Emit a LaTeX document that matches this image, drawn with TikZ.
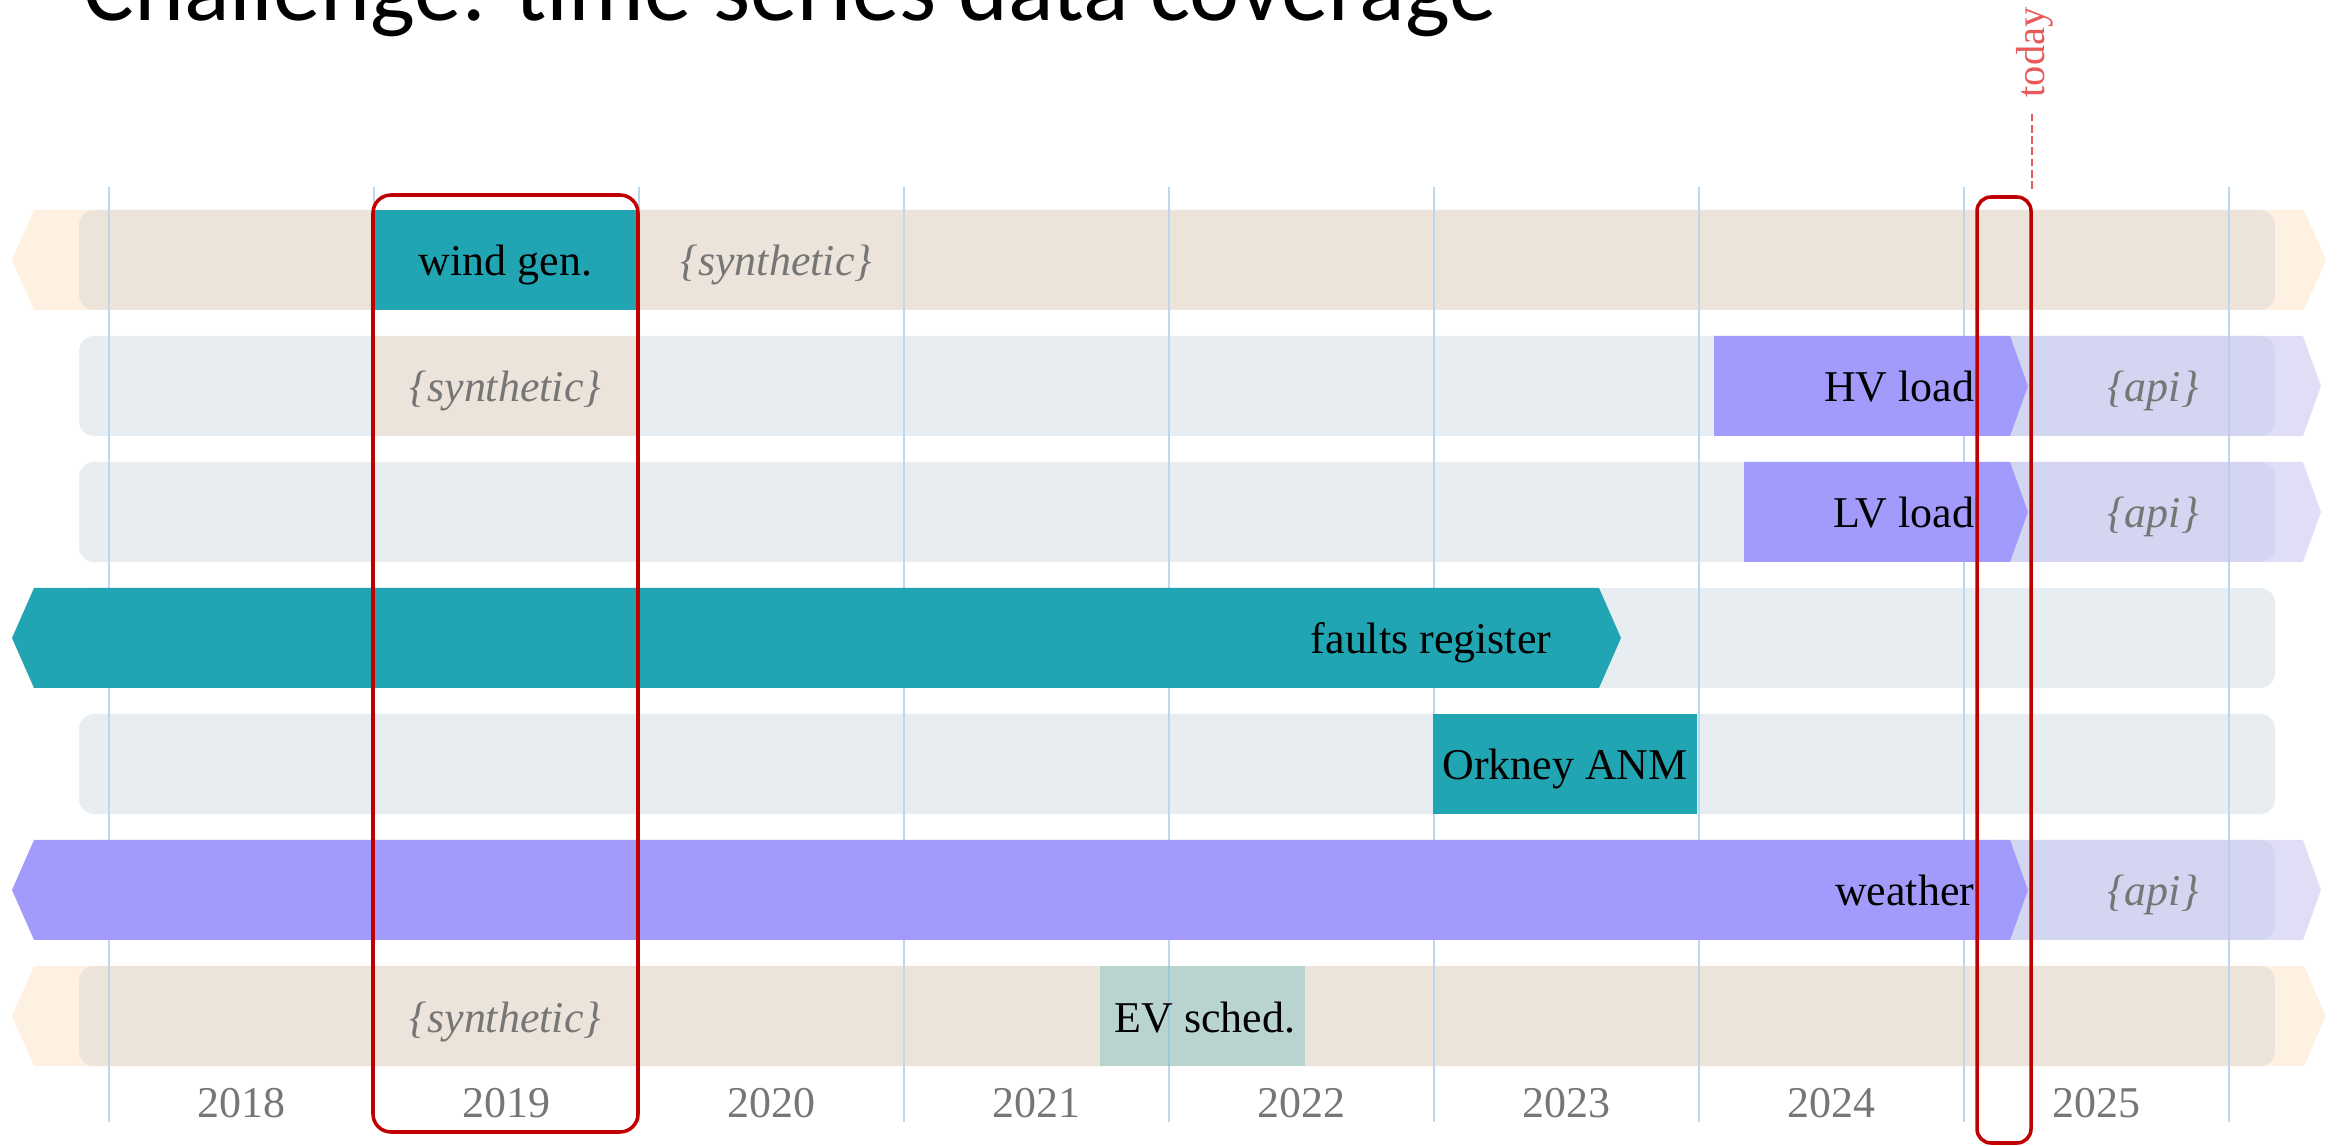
\documentclass[tikz,border=0pt]{standalone}
\usepackage{fontspec}
\setmainfont{Liberation Serif}
\newfontfamily\headfont{Carlito}
\definecolor{datateal}{rgb}{0.133, 0.647, 0.702}
\definecolor{datapurple}{rgb}{0.635, 0.608, 0.988}
\definecolor{apililac}{rgb}{0.761, 0.745, 0.941}
\definecolor{synthbeige}{rgb}{0.925, 0.894, 0.855}
\definecolor{synthorange}{rgb}{1, 0.945, 0.882}
\definecolor{rowgrey}{rgb}{0.91, 0.929, 0.945}
\definecolor{yearblue}{rgb}{0.741, 0.843, 0.933}
\definecolor{boxred}{rgb}{0.753, 0, 0}
\definecolor{todayred}{rgb}{0.91, 0.35, 0.35}
\definecolor{textgrey}{rgb}{0.463, 0.463, 0.463}
\tikzstyle{barlabel} = [inner sep=0pt, anchor=base, font=\fontsize{12.5}{15}\selectfont]
\tikzstyle{srclabel} = [barlabel, text=textgrey, font=\fontsize{12.5}{15}\selectfont\itshape]
\tikzstyle{yearlabel} = [barlabel, text=textgrey]
\tikzstyle{yearline} = [draw=yearblue, line width=0.7pt]
\tikzstyle{redbox} = [draw=boxred, line width=1pt]

\begin{document}
\begin{tikzpicture}[x=0.01cm, y=-0.01cm]
\useasboundingbox (0,0) rectangle (2338,1146);
\node[inner sep=0pt, anchor=base west, font=\headfont\fontsize{27}{32}\selectfont] (title) at (83,21) {Challenge: time series data coverage};

\foreach \r in {1,7}
  \fill[synthorange] (12,{134+126*\r}) -- (34,{84+126*\r}) -- (2304,{84+126*\r}) -- (2326,{134+126*\r}) -- (2304,{184+126*\r}) -- (34,{184+126*\r}) -- cycle;
\foreach \r/\c in {1/synthbeige,2/rowgrey,3/rowgrey,4/rowgrey,5/rowgrey,6/rowgrey,7/synthbeige}
  \fill[\c, rounded corners=0.15cm] (79,{84+126*\r}) rectangle (2275,{184+126*\r});
\fill[synthbeige] (373,336) rectangle (638,436);

\foreach \i in {0,...,8}
  \draw[yearline] ({109+265*\i},187) -- ({109+265*\i},1122);
\foreach \y [count=\i from 0] in {2018,...,2025}
  \node[yearlabel] (y\y) at ({241.5+265*\i},1117) {\y};

\foreach \r in {2,3,6}
  \fill[apililac, fill opacity=0.5] (1990,{84+126*\r}) -- (2303,{84+126*\r}) -- (2321,{134+126*\r}) -- (2303,{184+126*\r}) -- (1990,{184+126*\r}) -- cycle;

\fill[datateal] (373,210) rectangle (638,310);
\fill[datateal] (12,638) -- (34,588) -- (1599,588) -- (1621,638) -- (1599,688) -- (34,688) -- cycle;
\fill[datateal] (1433,714) rectangle (1697,814);
\fill[datateal, fill opacity=0.25] (1100,966) rectangle (1305,1066);
\fill[datapurple] (1714,336) -- (2010,336) -- (2028,386) -- (2010,436) -- (1714,436) -- cycle;
\fill[datapurple] (1744,462) -- (2010,462) -- (2028,512) -- (2010,562) -- (1744,562) -- cycle;
\fill[datapurple] (12,890) -- (34,840) -- (2010,840) -- (2028,890) -- (2010,940) -- (34,940) -- cycle;

\node[barlabel] (wind) at (505.5,276) {wind gen.};
\node[srclabel, anchor=base west] (synth1) at (680,276) {\{synthetic\}};
\node[srclabel] (synth2) at (505.5,402) {\{synthetic\}};
\node[barlabel, anchor=base east] (hv) at (1975,402) {HV load};
\node[srclabel] (api2) at (2153,402) {\{api\}};
\node[barlabel, anchor=base east] (lv) at (1975,528) {LV load};
\node[srclabel] (api3) at (2153,528) {\{api\}};
\node[barlabel, anchor=base east] (faults) at (1552,654) {faults register};
\node[barlabel] (orkney) at (1565,780) {Orkney ANM};
\node[barlabel, anchor=base east] (weather) at (1975,906) {weather};
\node[srclabel] (api6) at (2153,906) {\{api\}};
\node[srclabel] (synth7) at (505.5,1032) {\{synthetic\}};
\node[barlabel] (ev) at (1205,1032) {EV sched.};

\draw[redbox, rounded corners=0.18cm] (373,195) rectangle (638,1132);
\draw[redbox, rounded corners=0.14cm] (1977,197) rectangle (2031,1143);
\node[inner sep=0.16cm, anchor=west, rotate=90, text=todayred, font=\fontsize{11.5}{14}\selectfont] (today) at (2035,114) {today};
\coordinate (now) at (2032,189);
\draw[todayred, line width=0.6pt, dash pattern=on 2.2pt off 1pt] (now) -- (now |- today.west);
\end{tikzpicture}
\end{document}
